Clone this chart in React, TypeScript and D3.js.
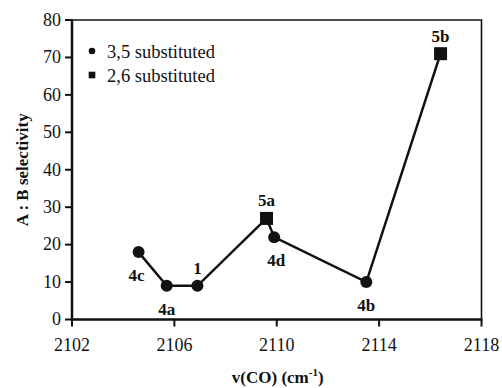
import * as d3 from 'd3'

// wavenumbers, selectivity, compound labels, substitution type
const wavenumbers = [2104.6, 2105.7, 2106.9, 2109.6, 2109.9, 2113.5, 2116.4]
const selectivity = [18, 9, 9, 27, 22, 10, 71]
const compounds = ['4c', '4a', '1', '5a', '4d', '4b', '5b']
const substitution = ['3,5', '3,5', '3,5', '2,6', '3,5', '3,5', '2,6']
// label above or below its point
const labelPlace = ['below', 'below', 'above', 'above', 'below', 'below', 'above']

const xTicks = [2102, 2106, 2110, 2114, 2118]
const yTicks = [0, 10, 20, 30, 40, 50, 60, 70, 80]
const legendItems = ['3,5 substituted', '2,6 substituted']

const W = 502
const H = 388
const FONT = "'Liberation Serif'"
const INK = '#111'

const left = 72
const right = 481.5
const top = 20
const bottom = 319.5

export default function App() {
  const x = d3.scaleLinear().domain([2102, 2118]).range([left, right])
  const y = d3.scaleLinear().domain([0, 80]).range([bottom, top])

  const pts = wavenumbers.map((w, i) => ({
    x: w, y: selectivity[i], name: compounds[i], type: substitution[i], place: labelPlace[i]
  }))

  const line = d3.line<typeof pts[0]>().x(d => x(d.x)).y(d => y(d.y))
  const sq = 13

  return (
    <svg
      width={W}
      height={H}
      style={{ position: 'absolute', left: 0, top: 0, background: '#fff', fontFamily: FONT }}
    >
      {/* frame */}
      <path d={`M${left},${top}H${right}V${bottom}`} fill="none" stroke={INK} strokeWidth={1.6} />

      {/* y axis */}
      <line x1={left} x2={left} y1={top - 1} y2={bottom + 1} stroke={INK} strokeWidth={2.5} />
      {yTicks.map(t => (
        <g key={`y${t}`}>
          <line x1={left - 7} x2={left} y1={y(t)} y2={y(t)} stroke={INK} strokeWidth={2} />
          <text
            x={left - 11}
            y={y(t)}
            dy="0.32em"
            textAnchor="end"
            fill={INK}
            style={{ fontFamily: FONT, fontSize: '18px' }}
          >
            {t}
          </text>
        </g>
      ))}

      {/* x axis */}
      <line x1={left - 1} x2={right + 1} y1={bottom} y2={bottom} stroke={INK} strokeWidth={2.5} />
      {xTicks.map(t => (
        <g key={`x${t}`}>
          <line x1={x(t)} x2={x(t)} y1={bottom} y2={bottom + 7} stroke={INK} strokeWidth={2} />
          <text
            x={x(t)}
            y={bottom + 31}
            textAnchor="middle"
            fill={INK}
            style={{ fontFamily: FONT, fontSize: '18px' }}
          >
            {t}
          </text>
        </g>
      ))}

      {/* connecting line */}
      <path d={line(pts) || ''} fill="none" stroke={INK} strokeWidth={2.5} />

      {/* markers */}
      {pts.map(d =>
        d.type === '3,5' ? (
          <circle key={`m${d.name}`} cx={x(d.x)} cy={y(d.y)} r={6} fill={INK} />
        ) : (
          <rect
            key={`m${d.name}`}
            x={x(d.x) - sq / 2}
            y={y(d.y) - sq / 2}
            width={sq}
            height={sq}
            fill={INK}
          />
        )
      )}

      {/* point labels */}
      {pts.map(d => (
        <text
          key={`l${d.name}`}
          x={x(d.x) + (d.name === '4c' ? -2 : d.name === '4d' ? 2 : 0)}
          y={d.place === 'above' ? y(d.y) - 12 : y(d.y) + 29}
          textAnchor="middle"
          fill={INK}
          style={{ fontFamily: FONT, fontSize: '17px', fontWeight: 'bold' }}
        >
          {d.name}
        </text>
      ))}

      {/* legend */}
      {legendItems.map((label, i) => {
        const cy = 51 + i * 24
        return (
          <g key={label}>
            {i === 0 ? (
              <circle cx={92} cy={cy} r={3.3} fill={INK} />
            ) : (
              <rect x={88.7} y={cy - 3.3} width={6.6} height={6.6} fill={INK} />
            )}
            <text x={107} y={cy + 7} fill={INK} style={{ fontFamily: FONT, fontSize: '18.5px' }}>
              {label}
            </text>
          </g>
        )
      })}

      {/* axis titles */}
      <text
        transform={`translate(28,${(top + bottom) / 2}) rotate(-90)`}
        textAnchor="middle"
        fill={INK}
        style={{ fontFamily: FONT, fontSize: '17px', fontWeight: 'bold' }}
      >
        A : B selectivity
      </text>
      <text
        x={(left + right) / 2 + 1}
        y={383}
        textAnchor="middle"
        fill={INK}
        style={{ fontFamily: FONT, fontSize: '17px', fontWeight: 'bold' }}
      >
        <tspan>v(CO) (cm</tspan>
        <tspan dy={-7} style={{ fontSize: '11px' }}>-1</tspan>
        <tspan dy={7}>)</tspan>
      </text>
    </svg>
  )
}
